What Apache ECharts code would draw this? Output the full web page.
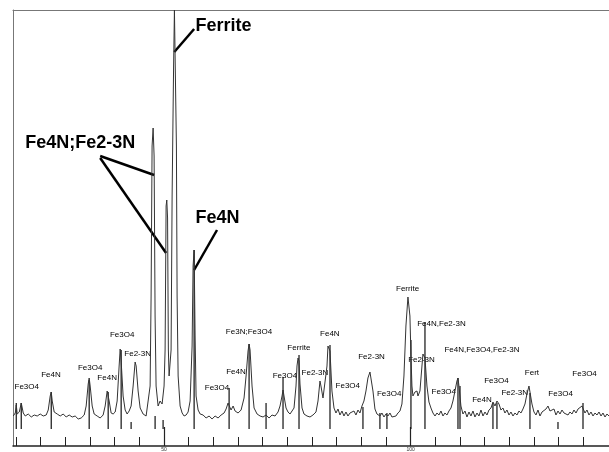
<!DOCTYPE html>
<html><head><meta charset="utf-8">
<script src="https://cdn.jsdelivr.net/npm/echarts@6/dist/echarts.min.js"></script>
<style>html,body{margin:0;padding:0;background:#fff}#c{width:609px;height:452px}</style>
</head><body><div id="c"></div>
<script>
// 2-theta (deg) vs intensity (arbitrary units)
const pattern = [[19.45,30],[19.86,33],[20.06,41],[20.26,32],[20.67,34],[21.07,43],[21.48,33],[21.88,30],[22.49,32],[23.10,29],[23.71,31],[24.31,30],[24.92,32],[25.53,30],[26.13,31],[26.54,36],[26.94,50],[27.15,54],[27.35,45],[27.75,34],[28.36,32],[28.97,30],[29.58,32],[30.18,29],[30.79,31],[31.40,29],[32.00,30],[32.61,27],[33.22,28],[33.83,31],[34.23,40],[34.64,62],[34.84,68],[35.04,60],[35.45,40],[35.85,32],[36.46,30],[37.07,28],[37.67,31],[38.08,40],[38.49,55],[38.69,56],[38.89,45],[39.29,33],[39.70,32],[40.11,34],[40.51,45],[40.91,80],[41.12,97],[41.32,85],[41.72,50],[42.13,36],[42.53,32],[42.94,35],[43.34,40],[43.75,60],[44.15,84],[44.36,80],[44.76,55],[45.17,38],[45.77,32],[46.38,30],[46.78,29],[47.19,60],[47.39,150],[47.59,300],[47.80,318],[48.00,290],[48.20,130],[48.40,60],[48.81,40],[49.21,45],[49.62,42],[50.02,60],[50.23,96],[50.43,240],[50.57,246],[50.73,228],[50.89,96],[51.04,70],[51.24,68],[51.44,96],[51.65,250],[51.75,293],[51.95,380],[52.12,436],[52.36,436],[52.52,300],[52.66,150],[52.87,70],[53.27,40],[53.68,33],[54.08,30],[54.49,31],[54.89,34],[55.30,45],[55.70,100],[55.90,180],[56.11,196],[56.31,110],[56.51,50],[56.92,36],[57.33,32],[57.93,31],[58.54,28],[59.15,30],[59.75,27],[60.36,30],[60.97,28],[61.58,31],[62.18,33],[62.59,37],[62.99,43],[63.20,41],[63.60,36],[64.01,40],[64.41,35],[65.02,33],[65.63,36],[66.23,48],[66.64,70],[67.04,95],[67.25,102],[67.45,96],[67.85,60],[68.26,38],[68.87,32],[69.48,30],[70.08,29],[70.69,31],[71.30,28],[71.90,31],[72.51,30],[73.12,34],[73.52,40],[73.93,50],[74.13,56],[74.33,50],[74.74,38],[75.14,34],[75.55,32],[75.95,31],[76.36,38],[76.76,60],[76.96,80],[77.17,88],[77.37,85],[77.57,62],[77.98,38],[78.38,32],[78.99,30],[79.60,29],[80.20,31],[80.81,34],[81.22,45],[81.62,65],[81.82,60],[82.23,48],[82.63,50],[83.04,80],[83.24,100],[83.44,102],[83.65,95],[84.05,55],[84.46,38],[84.86,33],[85.27,37],[85.67,31],[86.08,35],[86.48,30],[86.89,34],[87.29,30],[87.70,33],[88.10,31],[88.51,35],[88.91,31],[89.32,36],[89.72,33],[90.13,40],[90.53,45],[90.94,55],[91.34,68],[91.75,74],[91.95,72],[92.36,55],[92.76,37],[93.17,32],[93.77,30],[94.18,33],[94.59,29],[94.99,32],[95.40,30],[95.80,33],[96.21,29],[96.61,31],[97.02,30],[97.42,33],[97.83,35],[98.23,42],[98.64,70],[99.04,120],[99.45,149],[99.65,149],[99.85,130],[100.06,90],[100.26,60],[100.46,50],[100.87,54],[101.28,55],[101.48,50],[101.88,55],[102.29,80],[102.49,92],[102.70,94],[102.90,88],[103.30,60],[103.71,44],[104.11,38],[104.52,33],[104.93,30],[105.33,33],[105.74,31],[106.14,35],[106.55,30],[106.95,33],[107.36,31],[107.76,35],[108.17,38],[108.57,45],[108.98,55],[109.38,65],[109.59,68],[109.79,60],[110.19,40],[110.60,32],[111.01,35],[111.41,29],[111.82,34],[112.22,30],[112.63,35],[113.03,29],[113.44,33],[113.84,30],[114.25,36],[114.66,30],[115.06,34],[115.47,31],[115.87,36],[116.28,38],[116.68,44],[117.09,40],[117.49,45],[117.90,42],[118.30,36],[118.71,38],[119.11,33],[119.52,36],[119.93,31],[120.33,34],[120.74,30],[121.14,33],[121.55,31],[121.95,35],[122.36,33],[122.76,37],[123.17,42],[123.57,52],[123.98,60],[124.18,58],[124.59,42],[124.99,34],[125.40,31],[125.80,36],[126.21,30],[126.62,34],[127.02,32],[127.43,37],[127.83,40],[128.24,35],[128.64,33],[129.05,37],[129.45,31],[129.86,35],[130.27,32],[130.67,36],[131.08,33],[131.48,35],[131.89,31],[132.29,34],[132.70,32],[133.10,36],[133.51,33],[133.92,37],[134.32,35],[134.73,40],[134.93,38],[135.33,33],[135.74,36],[136.14,31],[136.55,34],[136.96,30],[137.36,33],[137.77,31],[138.17,34],[138.58,30],[138.98,33],[139.39,29],[139.79,32],[140.20,30]];

// reference stick markers: position and top
const stickPos = [20.06,21.07,27.15,34.84,38.69,41.32,43.34,48.20,49.82,56.11,63.20,67.25,70.69,74.13,77.37,83.65,90.33,93.77,95.19,100.06,102.90,109.59,110.0,116.68,117.49,124.18,129.86,134.93];
const stickTop = [43,43,54,66,54,96,24,30,26,196,58,102,43,69,91,101,39,33,33,106,124,68,60,43,43,53,24,43];
const stickBase = 17;

// small phase labels
const smallText = ["Fe3O4","Fe4N","Fe3O4","Fe4N","Fe3O4","Fe2-3N","Fe3O4","Fe4N","Fe3N;Fe3O4","Fe3O4","Ferrite","Fe2-3N","Fe4N","Fe3O4","Fe2-3N","Fe3O4","Ferrite","Fe2-3N","Fe4N,Fe2-3N","Fe3O4","Fe4N,Fe3O4,Fe2-3N","Fe4N","Fe3O4","Fe2-3N","Fert","Fe3O4","Fe3O4"];
const smallX = [22.19,27.09,35.04,38.48,41.52,44.66,60.75,64.60,67.23,74.51,77.35,80.59,83.62,87.26,92.07,95.64,99.37,102.19,106.24,106.71,114.46,114.46,117.38,121.09,124.58,130.39,135.25];
const smallY = [59,71,78,68,111,92,58,74,114,70,98,73,112,60,89,52,157,86,122,54,96,46,65,53,73,52,72];

// big labels (left-aligned)
const bigText = ["Ferrite","Fe4N;Fe2-3N","Fe4N"];
const bigX = [56.4,21.88,56.4];
const bigY = [420,303,228];

// leader lines [x1,y1,x2,y2]
const leaders = [[56.11,417,52.09,394],[37.07,290,48.0,271],[37.07,288,50.43,193],[60.75,216,56.11,176]];

const minorTicks = [20,25,30,35,40,45,55,60,65,70,75,80,85,90,95,105,110,115,120,125,130,135];
const majorTicks = [50,100];

const chart = echarts.init(document.getElementById('c'));
const xMin = 19.4, xMax = 140.2;
chart.setOption({
  animation:false,
  grid:{left:13,right:0,top:10,bottom:6,show:false},
  xAxis:[
    {type:'value',min:xMin,max:xMax,position:'bottom',
     axisLine:{show:true,onZero:false,lineStyle:{color:'#222',width:1.5}},
     axisTick:{show:true,inside:true,length:9,customValues:minorTicks,lineStyle:{color:'#222',width:1}},
     axisLabel:{show:false},splitLine:{show:false}},
    {type:'value',min:xMin,max:xMax,position:'bottom',
     axisLine:{show:false,onZero:false},
     axisTick:{show:true,inside:true,length:19,customValues:majorTicks,lineStyle:{color:'#222',width:1.2}},
     axisLabel:{show:true,customValues:majorTicks,fontSize:5,margin:1,color:'#333',fontFamily:'Liberation Sans'},
     splitLine:{show:false}},
    {type:'value',min:xMin,max:xMax,position:'top',
     axisLine:{show:true,onZero:false,lineStyle:{color:'#777',width:1}},
     axisTick:{show:false},axisLabel:{show:false},splitLine:{show:false}}
  ],
  yAxis:{type:'value',min:0,max:436,
     axisLine:{show:true,onZero:false,lineStyle:{color:'#777',width:1}},
     axisTick:{show:false},axisLabel:{show:false},splitLine:{show:false}},
  series:[
    {type:'custom',name:'labels',xAxisIndex:0,silent:true,
     data:smallX.map((x,i)=>[x,smallY[i]]),
     renderItem:(p,api)=>{const c=api.coord([api.value(0),api.value(1)]);
       return {type:'text',style:{text:smallText[p.dataIndex],x:c[0],y:c[1],fill:'#000',fontSize:8,fontFamily:'Liberation Sans',align:'center',verticalAlign:'middle'}};}},
    {type:'custom',name:'big',xAxisIndex:0,silent:true,
     data:bigX.map((x,i)=>[x,bigY[i]]),
     renderItem:(p,api)=>{const c=api.coord([api.value(0),api.value(1)]);
       return {type:'text',style:{text:bigText[p.dataIndex],x:c[0],y:c[1],fill:'#000',fontSize:18,fontWeight:'bold',fontFamily:'Liberation Sans',align:'left',verticalAlign:'middle'}};}},
    {type:'custom',name:'leaders',xAxisIndex:0,silent:true,
     data:leaders,
     renderItem:(p,api)=>{const a=api.coord([api.value(0),api.value(1)]),b=api.coord([api.value(2),api.value(3)]);
       return {type:'line',shape:{x1:a[0],y1:a[1],x2:b[0],y2:b[1]},style:{stroke:'#000',lineWidth:2.5}};}},
    {type:'custom',name:'sticks',xAxisIndex:0,silent:true,
     data:stickPos.map((x,i)=>[x,stickTop[i]]),
     renderItem:(p,api)=>{const a=api.coord([api.value(0),stickBase]),b=api.coord([api.value(0),api.value(1)]);
       return {type:'line',shape:{x1:a[0],y1:a[1],x2:b[0],y2:b[1]},style:{stroke:'#111',lineWidth:1.2}};}},
    {type:'line',name:'pattern',xAxisIndex:0,data:pattern,showSymbol:false,clip:true,
     lineStyle:{color:'#333',width:1},z:3}
  ]
});
</script></body></html>
